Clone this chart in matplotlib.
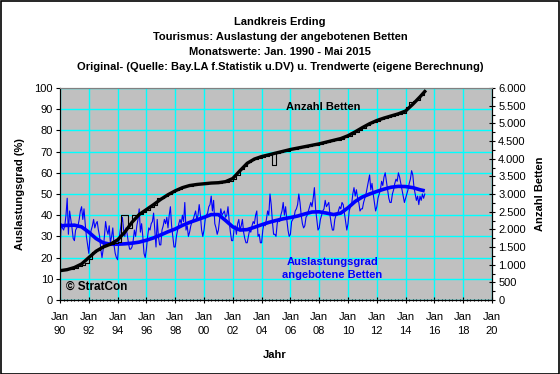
import matplotlib
matplotlib.use("Agg")
import matplotlib.pyplot as plt
from matplotlib.ticker import MultipleLocator, FixedLocator, FuncFormatter
from matplotlib.patches import Rectangle
import numpy as np

plt.rcParams['font.family'] = ['Liberation Sans', 'DejaVu Sans']

# ---------------- data ----------------
start_year = 1990
# Monthly bed occupancy (%) per year, Jan..Dec (2015: Jan..May)
occupancy_by_year = [
    [24, 36, 34, 33, 35, 40, 48, 31, 42, 38, 34, 29],   # 1990
    [28, 33, 34, 35, 38, 42, 44, 38, 43, 36, 30, 26],   # 1991
    [22, 30, 33, 35, 38, 34, 36, 37, 33, 30, 24, 20],   # 1992
    [24, 30, 37, 33, 31, 35, 27, 30, 34, 26, 22, 20],   # 1993
    [19, 28, 32, 36, 39, 33, 30, 34, 31, 27, 24, 24],   # 1994
    [25, 28, 33, 30, 35, 38, 43, 32, 36, 30, 22, 20],   # 1995
    [24, 30, 34, 33, 36, 37, 41, 33, 25, 38, 30, 26],   # 1996
    [26, 33, 35, 38, 36, 39, 34, 40, 44, 35, 30, 25],   # 1997
    [25, 30, 33, 36, 38, 36, 40, 37, 46, 33, 35, 30],   # 1998
    [32, 35, 37, 38, 40, 42, 38, 40, 45, 40, 33, 30],   # 1999
    [33, 38, 40, 41, 44, 45, 49, 42, 47, 36, 34, 31],   # 2000
    [33, 38, 43, 40, 41, 42, 39, 40, 44, 37, 32, 28],   # 2001
    [28, 33, 35, 31, 36, 38, 33, 35, 38, 32, 29, 27],   # 2002
    [27, 30, 33, 32, 35, 37, 36, 40, 42, 30, 31, 27],   # 2003
    [27, 33, 36, 35, 38, 42, 40, 50, 45, 37, 31, 31],   # 2004
    [30, 36, 38, 37, 40, 42, 46, 40, 44, 38, 33, 30],   # 2005
    [31, 37, 38, 39, 42, 43, 45, 50, 46, 40, 36, 34],   # 2006
    [35, 39, 40, 42, 44, 46, 44, 48, 53, 43, 38, 33],   # 2007
    [34, 38, 40, 42, 43, 47, 44, 45, 46, 40, 36, 33],   # 2008
    [33, 38, 40, 40, 42, 44, 43, 46, 45, 41, 37, 33],   # 2009
    [36, 42, 44, 45, 50, 53, 49, 52, 48, 46, 42, 43],   # 2010
    [43, 46, 48, 50, 53, 56, 59, 52, 55, 50, 46, 42],   # 2011
    [44, 48, 50, 52, 56, 54, 58, 60, 56, 52, 48, 46],   # 2012
    [46, 50, 52, 55, 57, 56, 60, 58, 55, 52, 49, 46],   # 2013
    [48, 50, 52, 55, 57, 61, 59, 53, 50, 47, 49, 45],   # 2014
    [49, 47, 50, 48, 50],                               # 2015
]

# Occupancy trend (%) at half-year points
occ_trend_t = [1990.0, 1990.5, 1991.0, 1991.5, 1992.0, 1992.5, 1993.0, 1993.5, 1994.0, 1994.5,
               1995.0, 1995.5, 1996.0, 1996.5, 1997.0, 1997.5, 1998.0, 1998.5, 1999.0, 1999.5,
               2000.0, 2000.5, 2001.0, 2001.5, 2002.0, 2002.5, 2003.0, 2003.5, 2004.0, 2004.5,
               2005.0, 2005.5, 2006.0, 2006.5, 2007.0, 2007.5, 2008.0, 2008.5, 2009.0, 2009.5,
               2010.0, 2010.5, 2011.0, 2011.5, 2012.0, 2012.5, 2013.0, 2013.5, 2014.0, 2014.5,
               2015.0, 2015.33]
occ_trend_v = [35.0, 35.2, 35.3, 34.5, 32.0, 29.0, 27.0, 26.3, 26.3, 26.5,
               26.8, 27.3, 28.2, 29.3, 30.7, 32.2, 33.5, 35.2, 36.6, 37.8,
               39.0, 40.3, 40.3, 37.5, 34.5, 33.0, 33.2, 34.3, 35.5, 36.6,
               37.5, 38.3, 38.9, 39.6, 40.6, 41.5, 41.6, 41.0, 40.3, 41.0,
               43.5, 46.5, 48.6, 50.0, 51.2, 52.3, 53.2, 53.6, 53.5, 53.0,
               52.0, 51.5]

# Beds, quarterly values (Jan/Apr/Jul/Oct) per year
beds_by_year = [
    [850, 860, 870, 880],        # 1990
    [900, 950, 1000, 1060],      # 1991
    [1150, 1350, 1420, 1480],    # 1992
    [1520, 1550, 1580, 1600],    # 1993
    [1650, 2400, 2400, 2050],    # 1994
    [2400, 2400, 2430, 2500],    # 1995
    [2550, 2620, 2700, 2900],    # 1996
    [2900, 2950, 3000, 3050],    # 1997
    [3100, 3150, 3200, 3220],    # 1998
    [3240, 3260, 3270, 3280],    # 1999
    [3290, 3300, 3310, 3320],    # 2000
    [3320, 3330, 3340, 3380],    # 2001
    [3420, 3550, 3700, 3800],    # 2002
    [3900, 3950, 4000, 4030],    # 2003
    [4050, 4070, 4100, 3820],    # 2004
    [4150, 4180, 4210, 4230],    # 2005
    [4260, 4280, 4300, 4320],    # 2006
    [4340, 4350, 4380, 4400],    # 2007
    [4420, 4440, 4470, 4500],    # 2008
    [4520, 4540, 4570, 4600],    # 2009
    [4650, 4700, 4760, 4820],    # 2010
    [4880, 4950, 5000, 5050],    # 2011
    [5080, 5130, 5160, 5190],    # 2012
    [5210, 5240, 5270, 5300],    # 2013
    [5450, 5600, 5620, 5650],    # 2014
    [5800, 5950],                # 2015
]

beds_trend_t = occ_trend_t
beds_trend_v = [830, 860, 920, 1020, 1200, 1380, 1500, 1580, 1700, 1920,
                2200, 2420, 2560, 2700, 2850, 2980, 3090, 3180, 3240, 3270,
                3290, 3310, 3320, 3350, 3440, 3660, 3870, 3990, 4060, 4110,
                4160, 4210, 4260, 4300, 4340, 4380, 4420, 4470, 4520, 4570,
                4650, 4760, 4880, 4990, 5080, 5150, 5210, 5270, 5350, 5540,
                5750, 5900]

xtick_years = list(range(1990, 2021, 2))
xtick_labels = ["Jan\n%02d" % (y % 100) for y in xtick_years]

# ---------------- build series ----------------
occ_t, occ_v = [], []
for i, vals in enumerate(occupancy_by_year):
    for m, v in enumerate(vals):
        occ_t.append(start_year + i + m / 12.0)
        occ_v.append(v)

beds_t, beds_v = [], []
for i, vals in enumerate(beds_by_year):
    for q, v in enumerate(vals):
        beds_t.append(start_year + i + q * 0.25)
        beds_v.append(v)
beds_t.append(2015.33)
beds_v.append(5950)

# ---------------- figure ----------------
W, H = 560, 374
fig = plt.figure(figsize=(W / 100, H / 100), dpi=100)
fig.patch.set_facecolor('white')

L, R, T, B = 60, 492, 88, 300
ax = fig.add_axes([L / W, 1 - B / H, (R - L) / W, (B - T) / H])
ax.set_facecolor('#C0C0C0')
ax2 = ax.twinx()

ax.set_xlim(1990, 2020)
ax.set_ylim(0, 100)
ax2.set_ylim(0, 6000)

ax.xaxis.set_major_locator(FixedLocator(xtick_years))
ax.set_xticklabels(xtick_labels, linespacing=1.55)
ax.xaxis.set_minor_locator(MultipleLocator(0.25))
ax.yaxis.set_major_locator(MultipleLocator(10))
ax2.yaxis.set_major_locator(MultipleLocator(500))
ax2.yaxis.set_minor_locator(MultipleLocator(250))
ax2.yaxis.set_major_formatter(FuncFormatter(lambda v, p: f"{int(v):,}".replace(",", ".")))

ax.grid(True, which='major', color='#00FFFF', linewidth=1.0)
ax.set_axisbelow(True)

ax.tick_params(axis='x', which='major', direction='inout', length=5, width=0.8,
               labelsize=8, pad=6)
ax.tick_params(axis='x', which='minor', direction='inout', length=2, width=0.8)
ax.tick_params(axis='y', which='major', direction='out', length=3, width=0.8,
               labelsize=8, pad=2)
ax2.tick_params(axis='y', which='major', direction='inout', length=5, width=0.8,
                labelsize=8, pad=2)
ax2.tick_params(axis='y', which='minor', direction='out', length=2, width=0.8)

for a in (ax, ax2):
    a.spines['top'].set_color('#808080')
    a.spines['left'].set_color('black')
    a.spines['right'].set_color('black')
    a.spines['bottom'].set_color('black')

# occupancy
ax.plot(occ_t, occ_v, color='#0000FF', linewidth=0.8)
ax.plot(occ_trend_t, occ_trend_v, color='#0000FF', linewidth=2.6, solid_capstyle='butt')

# beds
ax2.plot(beds_t, beds_v, color='black', linewidth=0.8, drawstyle='steps-post')
ax2.plot(beds_trend_t, beds_trend_v, color='black', linewidth=2.4)

# texts
title_lines = ["Landkreis Erding",
               "Tourismus: Auslastung der angebotenen Betten",
               "Monatswerte: Jan. 1990 - Mai 2015",
               "Original- (Quelle: Bay.LA f.Statistik u.DV) u. Trendwerte (eigene Berechnung)"]
for yp, line in zip([22, 37, 52, 67], title_lines):
    fig.text(280 / W, 1 - yp / H, line, ha='center', va='center',
             fontsize=8, fontweight='bold')

fig.text(20 / W, 1 - 194 / H, "Auslastungsgrad (%)", rotation=90,
         ha='center', va='center', fontsize=8, fontweight='bold')
fig.text(540 / W, 1 - 194 / H, "Anzahl Betten", rotation=90,
         ha='center', va='center', fontsize=8, fontweight='bold')
fig.text(275 / W, 1 - 355 / H, "Jahr", ha='center', va='center',
         fontsize=8, fontweight='bold')

ax.text(1990.45, 6.3, "© StratCon", ha='left', va='center', fontsize=8.5,
        fontweight='bold', color='black')
ax.text(2005.7, 91, "Anzahl Betten", ha='left', va='center', fontsize=8,
        fontweight='bold', color='black')
ax.text(2008.9, 14.8, "Auslastungsgrad\nangebotene Betten", ha='center', va='center',
        fontsize=8, fontweight='bold', color='#0000FF', linespacing=1.45)

fig.patches.append(Rectangle((0.5 / W, 0.5 / H), 1 - 1.5 / W, 1 - 1.5 / H,
                             transform=fig.transFigure, fill=False,
                             edgecolor='black', linewidth=1.2))

fig.savefig("out.png", dpi=100)
